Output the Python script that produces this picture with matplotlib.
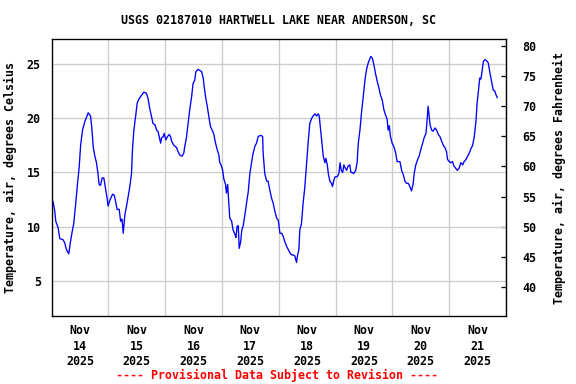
import pandas as pd
import matplotlib
matplotlib.use('Agg')
import matplotlib.pyplot as plt
import matplotlib.dates as mdates

# hours since Nov 14 2025 00:00 and air temperature (deg C)
hours = [
    0.0, 0.7, 1.4, 1.8, 2.8, 3.5, 4.9, 5.6, 6.3, 7.3,
    8.0, 8.7, 9.4, 10.3, 11.0, 11.7, 12.3, 13.1, 14.1, 14.8,
    15.5, 16.5, 17.0, 17.6, 18.3, 19.0, 19.7, 20.1, 20.7, 21.4,
    22.1, 22.9, 23.5, 23.9, 24.6, 25.8, 26.5, 27.2, 27.7, 28.6,
    29.2, 29.8, 30.3, 31.0, 31.7, 32.4, 33.1, 33.8, 34.2, 34.8,
    35.5, 36.2, 37.0, 38.0, 39.0, 40.1, 40.8, 41.5, 42.3, 42.9,
    43.7, 44.4, 45.0, 45.5, 46.1, 46.5, 47.2, 47.6, 48.3, 49.0,
    49.7, 50.3, 50.7, 51.7, 52.8, 53.5, 54.2, 55.2, 55.9, 56.3,
    57.0, 57.7, 58.4, 59.2, 59.8, 60.5, 61.0, 61.9, 62.7, 63.4,
    64.1, 64.5, 65.2, 65.8, 66.5, 67.2, 67.9, 68.6, 69.3, 70.0,
    70.7, 71.1, 71.8, 72.3, 72.8, 73.5, 73.9, 74.4, 74.9, 75.3,
    76.1, 76.7, 77.5, 77.9, 78.4, 78.9, 79.3, 79.9, 80.4, 81.0,
    81.7, 82.4, 83.1, 83.8, 84.5, 85.2, 85.9, 86.6, 87.3, 88.0,
    88.7, 89.2, 89.4, 90.1, 90.9, 91.5, 92.2, 93.0, 93.6, 94.4,
    95.1, 95.8, 96.5, 97.2, 97.9, 98.6, 99.3, 100.0, 100.7, 101.4,
    102.1, 102.8, 103.5, 103.9, 104.5, 104.9, 105.6, 106.3, 107.0, 107.8,
    108.4, 109.1, 109.9, 110.5, 111.3, 112.0, 112.7, 113.1, 113.7, 114.3,
    114.8, 115.5, 115.9, 116.5, 117.0, 117.6, 118.3, 118.7, 119.3, 119.8,
    120.7, 121.4, 121.9, 122.4, 123.0, 123.5, 124.1, 124.7, 125.3, 126.0,
    126.5, 127.0, 127.7, 128.5, 129.1, 129.6, 130.3, 131.0, 131.7, 132.4,
    133.1, 133.8, 134.5, 134.9, 135.6, 136.2, 136.9, 137.6, 138.3, 139.0,
    139.7, 140.4, 141.1, 141.8, 142.2, 142.7, 143.2, 143.9, 144.6, 145.4,
    146.0, 147.2, 147.9, 148.6, 149.3, 150.0, 150.7, 151.4, 152.1, 152.8,
    153.2, 153.9, 154.7, 155.3, 156.0, 156.8, 157.4, 158.2, 158.7, 159.1,
    159.6, 159.9, 160.6, 161.2, 162.0, 162.7, 163.4, 164.1, 164.8, 165.5,
    166.2, 166.9, 167.3, 168.0, 168.7, 169.4, 170.0, 170.7, 171.4, 172.2,
    172.9, 173.7, 174.3, 175.1, 175.8, 176.5, 177.2, 177.9, 178.6, 179.3,
    179.8, 180.4, 180.9, 181.4, 181.8, 182.4, 183.1, 183.8, 184.5, 185.2,
    185.9, 186.6, 187.3, 187.7, 188.3,
]
temp_c = [
    11.9, 12.3, 11.4, 10.5, 9.9, 8.9, 8.8, 8.5, 7.9, 7.5,
    8.6, 9.5, 10.3, 12.3, 14.0, 15.5, 17.5, 18.9, 19.7, 20.1,
    20.5, 20.2, 19.2, 17.4, 16.5, 15.9, 14.8, 13.9, 13.8, 14.5,
    14.5, 13.4, 12.6, 11.9, 12.4, 13.0, 12.9, 12.2, 11.6, 11.6,
    10.5, 10.7, 9.4, 11.1, 11.9, 12.8, 13.7, 14.9, 17.1, 18.9,
    20.1, 21.4, 21.8, 22.1, 22.4, 22.3, 21.8, 20.9, 20.1, 19.5,
    19.4, 18.9, 18.8, 18.3, 17.7, 18.2, 18.3, 18.6, 18.0, 18.3,
    18.5, 18.3, 17.9, 17.5, 17.3, 16.9, 16.6, 16.5, 16.8, 17.4,
    18.2, 19.5, 20.8, 22.0, 23.2, 23.5, 24.3, 24.5, 24.4, 24.3,
    23.7, 22.9, 21.8, 21.1, 20.1, 19.2, 18.9, 18.5, 17.7, 17.1,
    16.6, 15.9, 15.6, 15.2, 14.4, 13.9, 13.1, 13.9, 12.2, 10.8,
    10.5, 9.7, 9.3, 9.0, 10.0, 10.1, 8.0, 8.6, 9.7, 10.1,
    11.1, 12.2, 13.2, 14.9, 15.9, 16.8, 17.4, 17.7, 18.3, 18.4,
    18.4, 18.3, 16.8, 14.9, 14.2, 14.2, 13.4, 12.6, 12.2, 11.4,
    10.8, 10.6, 9.4, 9.4, 9.1, 8.6, 8.2, 7.9, 7.6, 7.4,
    7.4, 7.3, 6.7, 7.3, 7.9, 9.7, 10.3, 12.2, 13.6, 15.9,
    17.7, 19.5, 20.0, 20.2, 20.4, 20.2, 20.4, 20.2, 18.9, 17.7,
    16.5, 15.9, 16.3, 15.7, 14.8, 14.2, 14.0, 13.7, 14.3, 14.6,
    14.6, 14.9, 15.9, 15.2, 15.0, 15.7, 15.4, 15.2, 15.6, 15.7,
    15.0, 15.0, 14.9, 15.2, 15.9, 17.7, 18.9, 20.6, 22.0, 23.5,
    24.5, 25.1, 25.5, 25.7, 25.5, 24.9, 24.1, 23.4, 22.8, 22.1,
    21.7, 20.8, 20.3, 19.9, 18.9, 19.3, 18.3, 17.7, 17.4, 16.8,
    16.0, 16.0, 15.2, 14.8, 14.2, 14.0, 14.0, 13.7, 13.3, 14.0,
    14.9, 15.7, 16.2, 16.5, 17.1, 17.7, 18.2, 18.6, 19.9, 21.1,
    20.1, 19.4, 18.9, 18.8, 19.1, 18.9, 18.5, 18.3, 17.9, 17.5,
    17.3, 16.9, 16.2, 16.0, 15.9, 16.0, 15.6, 15.4, 15.2, 15.4,
    15.9, 15.7, 16.0, 16.2, 16.5, 16.8, 17.2, 17.5, 18.3, 19.7,
    21.4, 22.6, 23.7, 23.6, 24.2, 25.2, 25.4, 25.3, 25.1, 24.2,
    23.4, 22.6, 22.5, 22.2, 21.9,
]
start = pd.Timestamp('2025-11-14')
end = pd.Timestamp('2025-11-22')
c_ticks = [5, 10, 15, 20, 25]
f_ticks = [40, 45, 50, 55, 60, 65, 70, 75, 80]

times = start + pd.to_timedelta(hours, unit='h')

font = {'family': 'DejaVu Sans Mono', 'weight': 'bold', 'size': 8.7}
plt.rcParams['font.family'] = 'DejaVu Sans Mono'
plt.rcParams['font.weight'] = 'bold'

fig = plt.figure(figsize=(6, 4), dpi=96)
ax = fig.add_axes([51.5 / 576, 1 - 316 / 384, (506 - 51.5) / 576, (316 - 39) / 384])

ax.plot(times, temp_c, color='#0000ff', linewidth=1.0)

ax.set_xlim(start, end)
ax.set_ylim(1.77, 27.3)
ax.set_yticks(c_ticks)
ax.set_yticklabels([str(t) for t in c_ticks], fontdict=font)
ax.tick_params(axis='y', length=0, pad=8)

# gridlines at midnight, labels at noon
ax.xaxis.set_minor_locator(mdates.DayLocator())
ax.xaxis.set_major_locator(mdates.HourLocator(byhour=[12]))
ax.xaxis.set_major_formatter(mdates.DateFormatter('%b\n%d\n%Y'))
ax.tick_params(axis='x', which='both', length=0, pad=6)
for lbl in ax.get_xticklabels():
    lbl.set_fontfamily('DejaVu Sans Mono')
    lbl.set_fontweight('bold')
    lbl.set_fontsize(8.7)
    lbl.set_linespacing(1.25)

ax.grid(True, which='minor', axis='x', color='#cccccc', linewidth=1)
ax.grid(True, which='major', axis='y', color='#cccccc', linewidth=1)
ax.grid(False, which='major', axis='x')
ax.set_axisbelow(True)
for s in ax.spines.values():
    s.set_linewidth(1)
    s.set_color('black')

ax.set_ylabel('Temperature, air, degrees Celsius', fontdict=font, labelpad=7)

sec = ax.secondary_yaxis('right', functions=(lambda c: c * 9 / 5 + 32, lambda f: (f - 32) * 5 / 9))
sec.set_yticks(f_ticks)
sec.set_yticklabels([str(t) for t in f_ticks], fontdict=font)
sec.tick_params(direction='in', length=4, width=1, pad=12)
sec.set_ylabel('Temperature, air, degrees Fahrenheit', fontdict=font, labelpad=13)

fig.text(ax.get_position().x0 + ax.get_position().width / 2, 1 - 20 / 384,
         'USGS 02187010 HARTWELL LAKE NEAR ANDERSON, SC',
         ha='center', va='center', fontdict=font)
fig.text(ax.get_position().x0 + ax.get_position().width / 2 - 2 / 576, 1 - 375 / 384,
         '---- Provisional Data Subject to Revision ----',
         ha='center', va='center', color='red', fontdict=font)

fig.savefig('out.png', dpi=96)
